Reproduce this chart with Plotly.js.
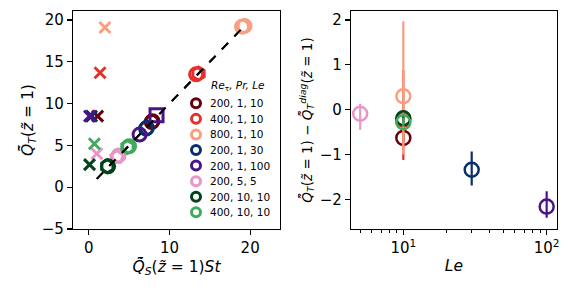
<!DOCTYPE html>
<html><head><meta charset="utf-8">
<script src="https://cdn.plot.ly/plotly-3.0.1.min.js"></script>
<style>html,body{margin:0;padding:0;background:#fff}#chart{width:572px;height:295px}</style>
</head><body><div id="chart"></div>
<script>
// ---- data ----
const labels = ['200, 1, 10','400, 1, 10','800, 1, 10','200, 1, 30','200, 1, 100','200, 5, 5','200, 10, 10','400, 10, 10'];
const colors = ['#67000d','#e8302a','#fc9d7e','#08306b','#4a1486','#e896c8','#00441b','#41ab5d'];
// left panel: cross markers
const crossX = [1.1, 1.4, 2.0, 0.35, 0.1, 1.0, 0.1, 0.7];
const crossY = [8.5, 13.7, 19.1, 8.5, 8.5, 4.0, 2.7, 5.2];
// left panel: diagonal markers
const diagX = [7.8, 13.3, 19.0, 7.1, 6.3, 3.7, 2.4, 5.0];
const diagY = [7.8, 13.5, 19.2, 7.0, 6.3, 3.8, 2.5, 4.9];
const altX = [7.9, 13.6, 19.3, 7.2, 8.4, 3.5, 2.3, 4.8];
const altY = [7.9, 13.6, 19.3, 7.1, 8.6, 3.6, 2.5, 4.8];
const altSymbol = ['circle-open','hexagon-open','circle-open','circle-open','square-open','pentagon-open','hexagon-open','hexagon-open'];
const diagLineX = [1.0, 19.5];
const diagLineY = [1.0, 19.5];
// right panel
const Le = [10, 10, 10, 30, 100, 5, 10, 10];
const dev = [-0.63, -0.22, 0.30, -1.34, -2.16, -0.09, -0.19, -0.28];
const errPlus = [0.10, 1.10, 1.67, 0.41, 0.34, 0.22, 0.10, 0.10];
const errMinus = [0.10, 0.90, 1.30, 0.35, 0.25, 0.36, 0.10, 0.10];
const legendTitle = '<i>Re</i><sub>τ</sub><i>, Pr, Le</i>';

const OL = '\u0304', TL = '\u0303';
const traces = [];
traces.push({x: diagLineX, y: diagLineY, mode: 'lines', line: {color: '#000', width: 2, dash: 'dash'}, xaxis: 'x', yaxis: 'y', showlegend: false, hoverinfo: 'skip'});
labels.forEach((lab, i) => {
  traces.push({x: [crossX[i]], y: [crossY[i]], mode: 'markers', xaxis: 'x', yaxis: 'y', showlegend: false,
    marker: {symbol: 'x-thin-open', size: 11, color: colors[i], line: {color: colors[i], width: 3}}});
});
labels.forEach((lab, i) => {
  traces.push({x: [altX[i]], y: [altY[i]], mode: 'markers', xaxis: 'x', yaxis: 'y', showlegend: false,
    marker: {symbol: altSymbol[i], size: 13, color: colors[i], line: {color: colors[i], width: 3}}});
  traces.push({x: [diagX[i]], y: [diagY[i]], mode: 'markers', xaxis: 'x', yaxis: 'y', showlegend: false,
    marker: {symbol: 'circle-open', size: 13, color: colors[i], line: {color: colors[i], width: 3}}});
});
traces.push({x: diagLineX, y: diagLineY, mode: 'lines', line: {color: '#000', width: 2, dash: 'dash'}, xaxis: 'x', yaxis: 'y', showlegend: false, hoverinfo: 'skip'});
labels.forEach((lab, i) => {
  traces.push({x: [Le[i]], y: [dev[i]], mode: 'markers', xaxis: 'x2', yaxis: 'y2', showlegend: false,
    error_y: {type: 'data', array: [errPlus[i]], arrayminus: [errMinus[i]], color: colors[i], thickness: 2.2, width: 0},
    marker: {symbol: 'circle-open', size: 14, color: colors[i], line: {color: colors[i], width: 2.5}}});
});
traces.push({x: labels.map(() => 16), y: labels.map((l, i) => i), mode: 'markers', xaxis: 'x3', yaxis: 'y3', showlegend: false,
  marker: {symbol: 'circle-open', size: 9, color: colors, line: {color: colors, width: 3}}});

const ann = labels.map((lab, i) => ({x: 28, y: i, xref: 'x3', yref: 'y3', text: lab, showarrow: false, xanchor: 'left', yanchor: 'middle',
  font: {family: 'DejaVu Sans', size: 10.5, color: '#000'}}));
ann.push({x: 209/572, y: 1 - 86/295, xref: 'paper', yref: 'paper', text: legendTitle, showarrow: false, xanchor: 'left', yanchor: 'middle',
  font: {family: 'DejaVu Sans', size: 10.5, color: '#000'}});

const axBase = {showgrid: false, zeroline: false, showline: true, mirror: true, linecolor: '#000', linewidth: 1.2,
  ticks: 'outside', ticklen: 5, tickwidth: 1.2, tickcolor: '#000', tickfont: {family: 'DejaVu Sans', size: 15, color: '#000'}};
const tfont = {family: 'DejaVu Sans', size: 15.5, color: '#000'};

const layout = {
  width: 572, height: 295, margin: {l: 0, r: 0, t: 0, b: 0}, paper_bgcolor: '#fff', plot_bgcolor: '#fff',
  showlegend: false,
  xaxis: Object.assign({}, axBase, {anchor: 'y', domain: [73/572, 280/572], range: [-1.95, 23.7], tickvals: [0, 10, 20],
    title: {text: '<i>Q' + TL + OL + '<sub>S</sub></i>(<i>z' + TL + '</i> = 1)<i>St</i>', font: tfont, standoff: 4}}),
  yaxis: Object.assign({}, axBase, {anchor: 'x', domain: [1 - 229/295, 1 - 11/295], range: [-5, 21.08], tickvals: [-5, 0, 5, 10, 15, 20],
    ticktext: ['−5', '0', '5', '10', '15', '20'],
    title: {text: '<i>Q' + TL + OL + '<sub>T</sub></i>(<i>z' + TL + '</i> = 1)', font: tfont, standoff: 4}}),
  xaxis2: Object.assign({}, axBase, {anchor: 'y2', domain: [351/572, 556.7/572], type: 'log', range: [0.635, 2.07], tickvals: [10, 100],
    ticktext: ['10<sup>1</sup>', '10<sup>2</sup>'],
    minor: {ticks: 'outside', ticklen: 3, tickwidth: 1, tickcolor: '#000', tickvals: [5, 6, 7, 8, 9, 20, 30, 40, 50, 60, 70, 80, 90]},
    title: {text: '<i>Le</i>', font: tfont, standoff: 4}}),
  yaxis2: Object.assign({}, axBase, {anchor: 'x2', domain: [1 - 229/295, 1 - 11/295], range: [-2.66, 2.2], tickvals: [-2, -1, 0, 1, 2],
    ticktext: ['−2', '−1', '0', '1', '2'],
    title: {text: '<i>Q' + TL + OL + '<sub>T</sub></i>(<i>z' + TL + '</i> = 1) − <i>Q' + TL + OL + '<sub>T</sub><sup>diag</sup></i>(<i>z' + TL + '</i> = 1)', font: {family: 'DejaVu Sans', size: 13.5, color: '#000'}, standoff: 4}}),
  xaxis3: {anchor: 'y3', domain: [180/572, 280/572], range: [0, 100], visible: false, fixedrange: true},
  yaxis3: {anchor: 'x3', domain: [1 - 220/295, 1 - 95/295], range: [7.495, -0.533], visible: false, fixedrange: true},
  annotations: ann
};
Plotly.newPlot('chart', traces, layout, {displayModeBar: false, staticPlot: true});
</script></body></html>
